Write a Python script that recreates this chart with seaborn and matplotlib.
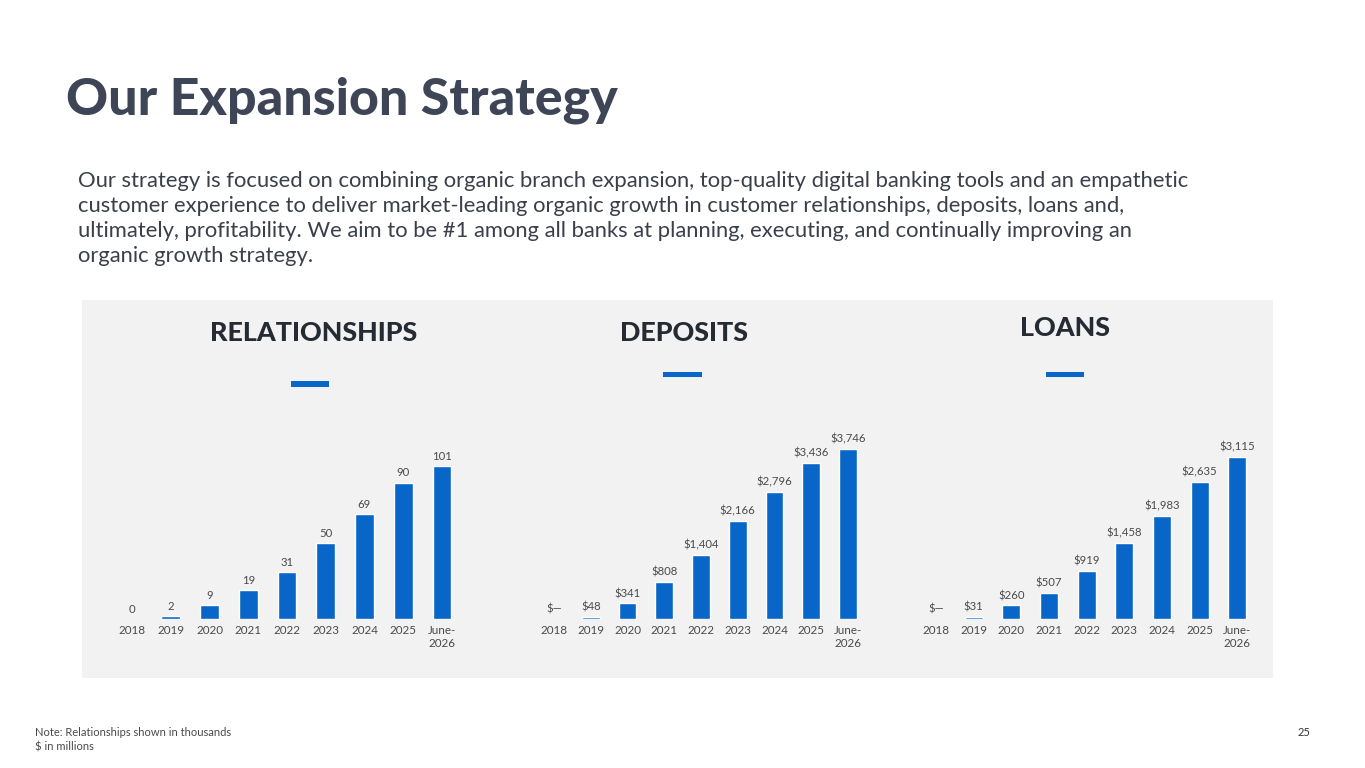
import matplotlib
matplotlib.use("Agg")
import matplotlib.pyplot as plt
from matplotlib.patches import Rectangle
import seaborn as sns

# ---------------- data ----------------
periods = ["2018", "2019", "2020", "2021", "2022", "2023", "2024", "2025", "June-\n2026"]
relationships = [0, 2, 9, 19, 31, 50, 69, 90, 101]
deposits = [0, 48, 341, 808, 1404, 2166, 2796, 3436, 3746]
loans = [0, 31, 260, 507, 919, 1458, 1983, 2635, 3115]
relationship_labels = ["0", "2", "9", "19", "31", "50", "69", "90", "101"]
deposit_labels = ["$—", "$48", "$341", "$808", "$1,404", "$2,166", "$2,796", "$3,436", "$3,746"]
loan_labels = ["$—", "$31", "$260", "$507", "$919", "$1,458", "$1,983", "$2,635", "$3,115"]
panel_titles = ["RELATIONSHIPS", "DEPOSITS", "LOANS"]

title = "Our Expansion Strategy"
paragraph = [
    "Our strategy is focused on combining organic branch expansion, top-quality digital banking tools and an empathetic",
    "customer experience to deliver market-leading organic growth in customer relationships, deposits, loans and,",
    "ultimately, profitability. We aim to be #1 among all banks at planning, executing, and continually improving an",
    "organic growth strategy.",
]
notes = ["Note: Relationships shown in thousands", "$ in millions"]
page_number = "25"

# ---------------- style ----------------
sns.set_theme(style="white")
plt.rcParams["font.family"] = ["Lato", "DejaVu Sans"]

W, H = 1365, 768
BLUE = "#0866C8"
PANEL = "#F2F2F2"
DARK = "#3D4557"
GREY = "#4A4A4A"

fig = plt.figure(figsize=(W / 100, H / 100), dpi=100)
fig.patch.set_facecolor("white")


def fx(x):
    return x / W


def fy(y):
    return 1 - y / H


# grey panel
fig.add_artist(Rectangle((fx(82), fy(678)), (1273 - 82) / W, (678 - 300) / H,
                         transform=fig.transFigure, facecolor=PANEL, edgecolor="none", zorder=-1))

# title and paragraph
fig.text(fx(66), fy(114), title, fontsize=37.4, fontweight="black", color=DARK, va="baseline", ha="left")
for i, line in enumerate(paragraph):
    fig.text(fx(78), fy(187 + 25 * i), line, fontsize=15.8, color="#3A3F4A", va="baseline", ha="left")

# notes
fig.text(fx(35), fy(733), notes[0], fontsize=8.0, color=GREY, va="center", ha="left")
fig.text(fx(35), fy(747), notes[1], fontsize=8.0, color=GREY, va="center", ha="left")
fig.text(fx(1310), fy(733), page_number, fontsize=8.0, color="#333333", va="center", ha="right")

# panel layouts: (first center px, spacing px, top px, title center x, title center y, dash x0, dash x1, dash y0, dash y1)
layouts = [
    (132, 38.75, 466, 314, 333, 291, 329, 381, 387),
    (554, 36.75, 448.7, 684, 333, 663, 702, 372, 377),
    (936, 37.67, 457, 1065.5, 328, 1046, 1084, 372, 377),
]
series = [relationships, deposits, loans]
labels = [relationship_labels, deposit_labels, loan_labels]
baseline = 619

for (c0, sp, top, tcx, tcy, dx0, dx1, dy0, dy1), vals, labs, ttl in zip(layouts, series, labels, panel_titles):
    left = c0 - 0.5 * sp
    width = 9 * sp
    ax = fig.add_axes([fx(left), fy(baseline), width / W, (baseline - top) / H])
    ax.patch.set_alpha(0)
    sns.barplot(x=periods, y=vals, ax=ax, color=BLUE, saturation=1, width=0.48)
    ax.set_xlim(-0.5, 8.5)
    ax.set_ylim(0, max(vals))
    for s in ax.spines.values():
        s.set_visible(False)
    ax.set_yticks([])
    ax.set_xlabel("")
    ax.set_ylabel("")
    ax.tick_params(axis="x", length=0, pad=4.5, labelsize=8.4, labelcolor=GREY)
    ax.bar_label(ax.containers[0], labels=labs, padding=3.2, fontsize=8.2, color=GREY,
                 annotation_clip=False)
    fig.text(fx(tcx), fy(tcy), ttl, fontsize=19.4, fontweight="black", color="#262B33",
             ha="center", va="center")
    fig.add_artist(Rectangle((fx(dx0), fy(dy1)), (dx1 - dx0) / W, (dy1 - dy0) / H,
                             transform=fig.transFigure, facecolor=BLUE, edgecolor="none"))

fig.savefig("out.png", dpi=100)
